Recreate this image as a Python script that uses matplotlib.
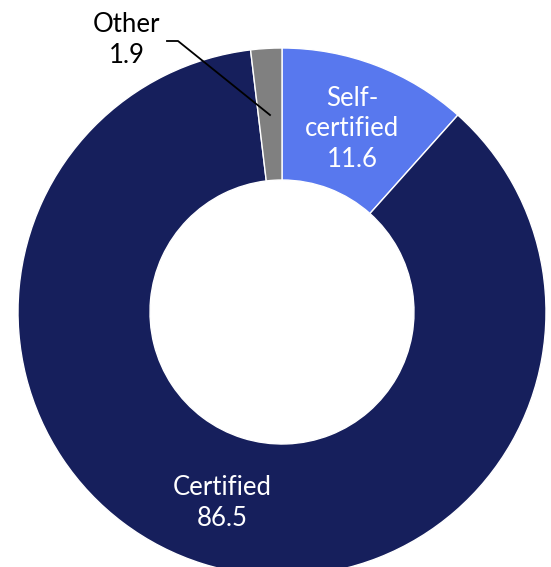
import matplotlib.pyplot as plt

# Share of items by certification type (%)
categories = ['Self-\ncertified', 'Certified', 'Other']
shares = [11.6, 86.5, 1.9]
colors = ['#5878EE', '#161F5C', '#808080']

plt.rcParams['font.family'] = ['Lato', 'DejaVu Sans']

fig = plt.figure(figsize=(5.51, 5.67), dpi=100)
ax = fig.add_axes([0, 0, 1, 1])

ax.pie(shares, colors=colors, startangle=90, counterclock=False,
       center=(282, 255), radius=264,
       wedgeprops=dict(width=132, edgecolor='white', linewidth=1))
ax.set_xlim(0, 551)
ax.set_ylim(0, 567)
ax.set_aspect('equal')
ax.axis('off')

label_pos = [(352, 438), (222, 64), (127, 527)]
for name, val, (x, y), c in zip(categories, shares, label_pos, ['white', 'white', 'black']):
    ax.text(x, y, f'{name}\n{val}', color=c, fontsize=18.5, ha='center', va='center',
            linespacing=1.28)

# leader line for the small slice
ax.plot([167, 178, 270], [526, 526, 452], color='black', lw=1.3)

fig.savefig('out.png', dpi=100)
